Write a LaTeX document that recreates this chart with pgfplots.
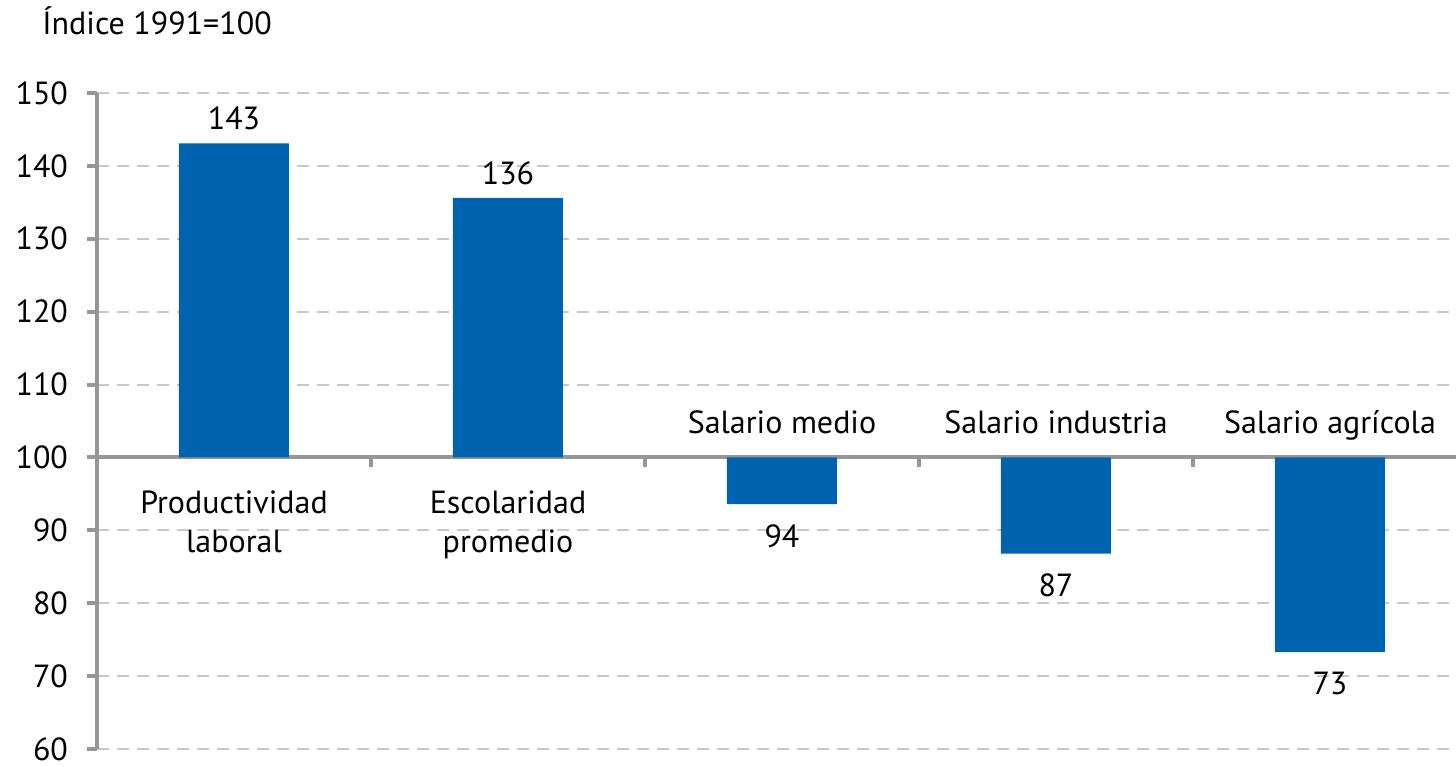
\documentclass[border=0pt]{standalone}
\usepackage{fontspec}
\setmainfont{PT Sans}
\usepackage{pgfplots}
\usepackage{pgfplotstable}
\pgfplotsset{compat=1.18}
\definecolor{barblue}{RGB}{0,99,175}
\definecolor{axgray}{RGB}{150,150,150}
\definecolor{gridgray}{RGB}{200,200,200}

\pgfplotstableread{
x v lab
0 143.1 143
1 135.6 136
}\postab
\pgfplotstableread{
x v lab
2 93.6 94
3 86.8 87
4 73.3 73
}\negtab

\begin{document}
\begin{tikzpicture}[font=\fontsize{16}{19}\selectfont]
\begin{axis}[name=ax, scale only axis, width=679.5pt, height=328pt,
  xmin=-0.5, xmax=4.46, ymin=-40, ymax=50,
  axis x line*=middle, axis y line*=left,
  axis line style={axgray, line width=2pt},
  xtick={0.5,1.5,2.5,3.5}, xticklabels={},
  ytick={-40,-30,...,50},
  yticklabels={60,70,80,90,100,110,120,130,140,150},
  tick align=outside, major tick length=5pt,
  tick style={axgray, line width=2pt},
  ymajorgrids,
  major grid style={gridgray, line width=1pt, dash pattern=on 6pt off 4pt},
  yticklabel style={font=\fontsize{16}{19}\selectfont, xshift=-6pt},
  clip=false,
]
\addplot[ybar, bar width=55pt, bar shift=0pt, fill=barblue, draw=none,
  nodes near coords, point meta=explicit symbolic,
  every node near coord/.append style={font=\fontsize{16}{19}\selectfont, anchor=south, inner sep=6.5pt}]
  table[x=x, y expr=\thisrow{v}-100, meta=lab] {\postab};
\addplot[ybar, bar width=55pt, bar shift=0pt, fill=barblue, draw=none,
  nodes near coords, point meta=explicit symbolic,
  every node near coord/.append style={font=\fontsize{16}{19}\selectfont, anchor=north, inner sep=10pt}]
  table[x=x, y expr=\thisrow{v}-100, meta=lab] {\negtab};
\node[anchor=base] at (axis cs:0,-7.65) {Productividad};
\node[anchor=base] at (axis cs:0,-13.1) {laboral};
\node[anchor=base] at (axis cs:1,-7.65) {Escolaridad};
\node[anchor=base] at (axis cs:1,-13.1) {promedio};
\node[anchor=base] at (axis cs:2,3.28) {Salario medio};
\node[anchor=base] at (axis cs:3,3.28) {Salario industria};
\node[anchor=base] at (axis cs:4,3.28) {Salario agrícola};
\end{axis}
\node[anchor=base west, inner sep=0pt, xshift=-27.5pt, yshift=29pt] at (ax.north west) {Índice 1991=100};
\pgfresetboundingbox
\path (ax.south west) ++(-48.5pt,-9pt) coordinate (bbA);
\path (ax.north east) ++(0pt,46.5pt) coordinate (bbB);
\useasboundingbox (bbA) rectangle (bbB);
\end{tikzpicture}
\end{document}
